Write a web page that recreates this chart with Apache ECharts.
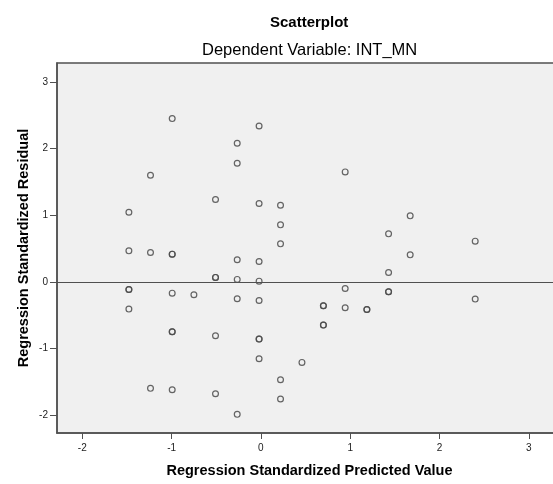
<!DOCTYPE html>
<html>
<head>
<meta charset="utf-8">
<script src="https://cdn.jsdelivr.net/npm/echarts@6/dist/echarts.min.js"></script>
<style>
  html, body { margin: 0; padding: 0; background: #ffffff; }
  #chart { width: 553px; height: 484px; }
</style>
</head>
<body>
<div id="chart"></div>
<script>
// Regression standardized predicted values (x) and residuals (y), one entry per case
const predicted = [
  -0.993, -0.02, -0.265, -0.265, -1.236, -0.508, -0.02, 0.22, 0.22, 0.22,
  -1.478, -1.478, -1.236, -0.993, -0.993, -0.265, -0.02, -0.508, -0.508, -0.265,
  -0.02, -1.478, -1.478, -0.993, -0.75, -0.265, -0.02, -1.478, -0.993, -0.993,
  -0.508, -0.02, -0.02, -0.02, 0.46, 0.22, 0.22, -1.236, -0.993, -0.508,
  -0.265, 0.944, 1.672, 1.43, 2.40, 1.672, 1.43, 0.944, 1.43, 1.43,
  0.70, 0.70, 0.944, 1.187, 1.187, 2.40, 0.70, 0.70
];
const residual = [
  2.45, 2.34, 2.08, 1.78, 1.60, 1.235, 1.175, 1.15, 0.855, 0.57,
  1.045, 0.465, 0.44, 0.415, 0.415, 0.33, 0.305, 0.066, 0.066, 0.036,
  0.01, -0.115, -0.115, -0.17, -0.195, -0.255, -0.28, -0.41, -0.75, -0.75,
  -0.81, -0.86, -0.86, -1.155, -1.21, -1.47, -1.76, -1.60, -1.62, -1.68,
  -1.99, 1.65, 0.99, 0.72, 0.61, 0.405, 0.14, -0.10, -0.15, -0.15,
  -0.36, -0.36, -0.39, -0.415, -0.415, -0.26, -0.65, -0.65
];

// Tick labels on both axes
const xTicks = [-2, -1, 0, 1, 2, 3];
const yTicks = [-2, -1, 0, 1, 2, 3];

const chartTitle = 'Scatterplot';
const chartSubtitle = 'Dependent Variable: INT_MN';
const xName = 'Regression Standardized Predicted Value';
const yName = 'Regression Standardized Residual';

const points = predicted.map((x, i) => [x, residual[i]]);

const font = '"Liberation Sans", Arial, sans-serif';
const frame = '#505050';

const chart = echarts.init(document.getElementById('chart'), null, { renderer: 'canvas' });

chart.setOption({
  animation: false,
  backgroundColor: '#ffffff',
  graphic: [
    {
      type: 'text', left: 310 - 40, top: 15,
      style: { text: chartTitle, font: 'bold 15px ' + font, fill: '#000000' }
    },
    {
      type: 'text', left: 310 - 108, top: 42,
      style: { text: chartSubtitle, font: '16.5px ' + font, fill: '#000000' }
    }
  ],
  grid: {
    left: 57,
    top: 63,
    width: 505,
    height: 370,
    outerBoundsMode: 'none',
    show: true,
    backgroundColor: '#f0f0f0',
    borderColor: frame,
    borderWidth: 1.5
  },
  xAxis: {
    type: 'value',
    min: -2.283,
    max: 3.372,
    name: xName,
    nameLocation: 'middle',
    nameGap: 30,
    nameTextStyle: { fontFamily: font, fontWeight: 'bold', fontSize: 14.5, color: '#000000' },
    axisLine: { show: true, onZero: false, lineStyle: { color: frame, width: 1.5 } },
    axisTick: { show: true, length: 6, lineStyle: { color: frame, width: 1 }, customValues: xTicks },
    axisLabel: { fontFamily: font, fontSize: 10, color: '#222222', margin: 10, customValues: xTicks },
    splitLine: { show: false }
  },
  yAxis: {
    type: 'value',
    min: -2.27,
    max: 3.285,
    name: yName,
    nameLocation: 'middle',
    nameGap: 26,
    nameMoveOverlap: false,
    nameTextStyle: { fontFamily: font, fontWeight: 'bold', fontSize: 14.5, color: '#000000' },
    axisLine: { show: true, onZero: false, lineStyle: { color: frame, width: 1.5 } },
    axisTick: { show: true, length: 7, lineStyle: { color: frame, width: 1 }, customValues: yTicks },
    axisLabel: { fontFamily: font, fontSize: 10, color: '#222222', margin: 9, customValues: yTicks },
    splitLine: { show: false }
  },
  series: [
    {
      type: 'scatter',
      data: points,
      symbol: 'circle',
      symbolSize: 5.8,
      itemStyle: { color: 'rgba(0,0,0,0)', borderColor: '#4a4a4a', borderWidth: 1.2, opacity: 0.85 },
      markLine: {
        silent: true,
        symbol: ['none', 'none'],
        label: { show: false },
        lineStyle: { color: frame, width: 1, type: 'solid' },
        data: [{ yAxis: 0 }]
      }
    }
  ]
});
</script>
</body>
</html>
